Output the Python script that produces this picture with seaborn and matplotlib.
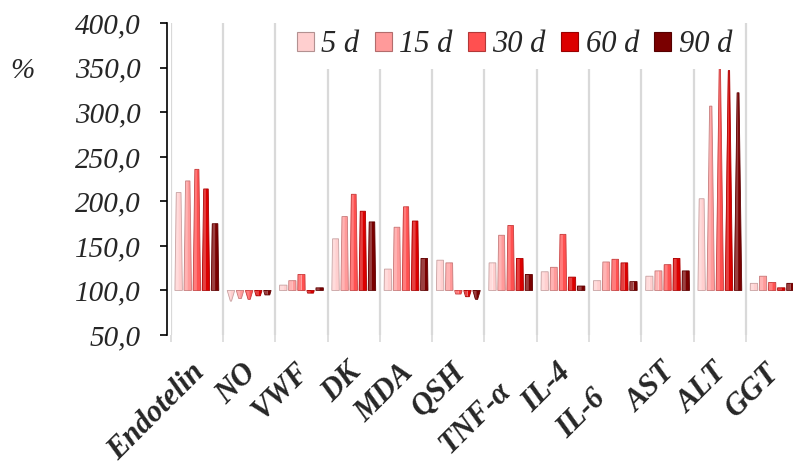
import numpy as np
import pandas as pd
import matplotlib
matplotlib.use("Agg")
import matplotlib.pyplot as plt
import matplotlib.colors as mcolors
from matplotlib.patches import Polygon, Patch
from matplotlib.transforms import ScaledTranslation
from matplotlib.font_manager import FontProperties
import seaborn as sns

# ---- data (percent of control, baseline = 100 %) ----
markers = ["Endotelin", "NO", "VWF", "DK", "MDA", "QSH", "TNF-α",
           "IL-4", "IL-6", "AST", "ALT", "GGT"]
periods = ["5 d", "15 d", "30 d", "60 d", "90 d"]

day5 = [210, 88, 106, 158, 124, 134, 131, 121, 111, 116, 203, 108]
day15 = [223, 91, 111, 183, 171, 131, 162, 126, 132, 122, 307, 116]
day30 = [236, 90, 118, 208, 194, 96, 173, 163, 135, 129, 353, 109]
day60 = [214, 94, 97, 189, 178, 93, 136, 115, 131, 136, 347, 103]
day90 = [175, 95, 103, 177, 136, 90, 118, 105, 110, 122, 322, 108]

period_colors = ["#FFCFCF", "#FF9A9A", "#FF5050", "#DC0000", "#7A0000"]
y_ticks = [50, 100, 150, 200, 250, 300, 350, 400]
baseline = 100

series = [day5, day15, day30, day60, day90]
df = pd.DataFrame(
    [(m, p, v - baseline) for p, vals in zip(periods, series)
     for m, v in zip(markers, vals)],
    columns=["marker", "period", "change"],
)

sns.set_style("white")
plt.rcParams["font.family"] = ["Liberation Serif", "DejaVu Serif"]

fig = plt.figure(figsize=(7.93, 4.65), dpi=100)
W, H = 793, 465
ax = fig.add_axes([170.7 / W, 1 - 335 / H, 627.6 / W, 311.7 / H])

sns.barplot(data=df, x="marker", y="change", hue="period",
            order=markers, hue_order=periods, palette=period_colors,
            saturation=1, width=0.87, gap=0.18, bottom=baseline,
            errorbar=None, linewidth=0, legend=False, ax=ax)

ax.set_ylim(y_ticks[0], y_ticks[-1])
ax.set_xlim(-0.5, len(markers) - 0.5)

# turn the flat bars into cones truncated by the axis range
up_extent = y_ticks[-1] - baseline
down_extent = 14.0
for rect in list(ax.patches):
    x0, w = rect.get_x(), rect.get_width()
    y0, h = rect.get_y(), rect.get_height()
    top = y0 + h
    ext = up_extent if h >= 0 else down_extent
    frac = max(0.06, 1 - abs(h) / ext)
    xc = x0 + w / 2
    fc = np.array(mcolors.to_rgb(rect.get_facecolor()))
    edge = fc * 0.78
    light = fc + (1 - fc) * 0.25
    # lighter left half, base-colour right half
    left = Polygon([(x0, y0), (xc, y0), (xc, top), (xc - w * frac / 2, top)],
                   closed=True, facecolor=light, edgecolor="none", zorder=3)
    right = Polygon([(xc, y0), (x0 + w, y0), (xc + w * frac / 2, top), (xc, top)],
                    closed=True, facecolor=fc, edgecolor="none", zorder=3)
    outline = Polygon([(x0, y0), (x0 + w, y0), (xc + w * frac / 2, top),
                       (xc - w * frac / 2, top)], closed=True,
                      facecolor="none", edgecolor=edge, lw=0.6, zorder=3.1)
    for p in (left, right, outline):
        ax.add_patch(p)
    rect.remove()

# axes styling
for side in ("top", "right", "bottom"):
    ax.spines[side].set_visible(False)
ax.spines["left"].set_color("black")
ax.spines["left"].set_linewidth(1.2)
ax.spines["left"].set_position(("outward", 2.7))

ax.set_yticks(y_ticks)
ax.set_yticklabels([f"{t:.1f}".replace(".", ",") for t in y_ticks],
                   fontstyle="italic", fontsize=21)
ax.tick_params(axis="y", length=5, width=1.2, color="black", pad=14,
               left=True, direction="out")

ax.set_xticks(np.arange(-0.5, len(markers), 1.0), minor=True)
ax.grid(False)
ax.grid(which="minor", axis="x", color="#D9D9D9", lw=1.6, zorder=0)
ax.set_axisbelow(True)
ax.tick_params(axis="x", which="minor", length=5, width=1.2,
               color="#D9D9D9", direction="out", bottom=True)
ax.tick_params(axis="x", which="major", length=0, pad=16.5)
ax.set_xticks(range(len(markers)))
ax.set_xticklabels(markers, rotation=45, ha="right", va="top",
                   rotation_mode="anchor", fontweight="bold",
                   fontstyle="italic", fontsize=22)
ax.set_xlabel("")
ax.set_ylabel("")

# nudge the rotated labels; two of them are staggered lower to avoid collisions
shift_px = {"TNF-α": (-14, 18), "IL-6": (-24, 26)}
for lab in ax.get_xticklabels():
    dx, dy = shift_px.get(lab.get_text(), (-7, 0))
    lab.set_transform(lab.get_transform() +
                      ScaledTranslation(dx / 100, -dy / 100, fig.dpi_scale_trans))

fig.text(22.5 / W, 1 - 71 / H, "%", fontstyle="italic", fontsize=21,
         ha="center", va="center")

handles = [Patch(facecolor=c, edgecolor=np.array(mcolors.to_rgb(c)) * 0.7,
                 linewidth=0.8) for c in period_colors]
leg = ax.legend(handles, periods, loc="center",
                bbox_to_anchor=(514.5 / W, 1 - 45 / H),
                bbox_transform=fig.transFigure, ncol=5, title=None,
                frameon=True, fancybox=False, framealpha=1,
                prop=FontProperties(family="Liberation Serif", style="italic", size=22),
                handlelength=0.55, handleheight=0.55, handletextpad=0.25,
                columnspacing=0.5, borderpad=0.3)
leg.get_frame().set_edgecolor("none")

fig.savefig("out.png", dpi=100)
